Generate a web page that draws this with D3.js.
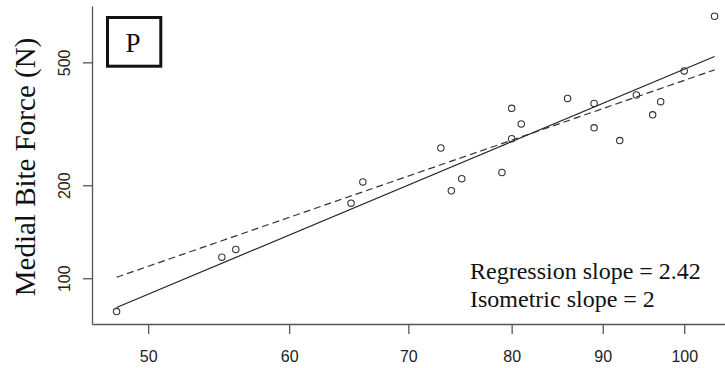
<!DOCTYPE html>
<html>
<head>
<meta charset="utf-8">
<script src="https://cdn.jsdelivr.net/npm/d3@7"></script>
<style>
  body { margin: 0; background: #fff; }
  svg { display: block; }
</style>
</head>
<body>
<div id="chart"></div>
<script>
// head length (mm) vs medial bite force (N)
const headLength = [48, 55, 56, 65, 66, 73, 74, 75, 79, 80, 80, 81, 86, 89, 89, 92, 94, 96, 97, 100, 104]
const biteForce = [78, 117, 124, 175, 205, 264, 192, 210, 220, 355, 283, 316, 382, 368, 307, 279, 392, 338, 373, 469, 705]

const xTicks = [50, 60, 70, 80, 90, 100]
const yTicks = [100, 200, 500]

// fitted lines in ln-ln space: ln(y) = intercept + slope * ln(x)
const regSlope = 2.42
const regIntercept = -4.981
const isoSlope = 2
const isoIntercept = -3.130

const panelLabel = 'P'
const noteLines = ['Regression slope = 2.42', 'Isometric slope = 2']

const width = 725
const height = 368
const plotLeft = 92, plotRight = 738, plotTop = 6, plotBottom = 324

const svg = d3.select('#chart').append('svg')
  .attr('width', width)
  .attr('height', height)

const x = d3.scaleLog()
  .domain([46.5, 107.2])
  .range([plotLeft, plotRight])

const y = d3.scaleLog()
  .domain([71.1, 761])
  .range([plotBottom, plotTop])

const axisColor = '#555'

// x axis
const gx = svg.append('g')
  .attr('transform', `translate(0,${plotBottom})`)
  .call(d3.axisBottom(x)
    .tickValues(xTicks)
    .tickFormat(d3.format('d'))
    .tickSize(10)
    .tickSizeOuter(0))
gx.select('.domain').attr('stroke', axisColor).attr('stroke-width', 1.3)
gx.selectAll('.tick line').attr('stroke', axisColor).attr('stroke-width', 1.3)
gx.selectAll('.tick text')
  .attr('y', 38)
  .attr('dy', 0)
  .attr('fill', '#222')
  .style('font-family', '"Liberation Sans", Arial, sans-serif')
  .style('font-size', '16px')

// y axis, labels parallel to the axis as in R
const gy = svg.append('g')
  .attr('transform', `translate(${plotLeft},0)`)
  .call(d3.axisLeft(y)
    .tickValues(yTicks)
    .tickFormat(d3.format('d'))
    .tickSize(9)
    .tickSizeOuter(0))
gy.select('.domain').attr('stroke', axisColor).attr('stroke-width', 1.3)
gy.selectAll('.tick line').attr('stroke', axisColor).attr('stroke-width', 1.3)
gy.selectAll('.tick text')
  .attr('transform', 'rotate(-90)')
  .attr('x', 0)
  .attr('y', -22)
  .attr('dy', 0)
  .attr('text-anchor', 'middle')
  .attr('fill', '#222')
  .style('font-family', '"Liberation Sans", Arial, sans-serif')
  .style('font-size', '16px')

svg.append('text')
  .attr('transform', 'translate(35,167) rotate(-90)')
  .attr('text-anchor', 'middle')
  .attr('fill', '#111')
  .style('font-family', '"Liberation Serif", "Times New Roman", serif')
  .style('font-size', '29px')
  .text('Medial Bite Force (N)')

// fitted lines across the data range
const xExt = d3.extent(headLength)
const lineGen = d3.line()
  .x(d => x(d[0]))
  .y(d => y(d[1]))

function fitPoints(a, b) {
  return xExt.map(v => [v, Math.exp(a + b * Math.log(v))])
}

svg.append('path')
  .datum(fitPoints(regIntercept, regSlope))
  .attr('d', lineGen)
  .attr('fill', 'none')
  .attr('stroke', '#222')
  .attr('stroke-width', 1.2)

svg.append('path')
  .datum(fitPoints(isoIntercept, isoSlope))
  .attr('d', lineGen)
  .attr('fill', 'none')
  .attr('stroke', '#333')
  .attr('stroke-width', 1.2)
  .attr('stroke-dasharray', '7,4')

// points
svg.append('g')
  .selectAll('circle')
  .data(headLength.map((v, i) => [v, biteForce[i]]))
  .join('circle')
  .attr('cx', d => x(d[0]))
  .attr('cy', d => y(d[1]))
  .attr('r', 3.2)
  .attr('fill', 'none')
  .attr('stroke', '#333')
  .attr('stroke-width', 1.1)

// panel label box
svg.append('rect')
  .attr('x', 107.5)
  .attr('y', 17.5)
  .attr('width', 53.3)
  .attr('height', 48.7)
  .attr('fill', 'none')
  .attr('stroke', '#111')
  .attr('stroke-width', 3)

svg.append('text')
  .attr('x', 133)
  .attr('y', 52)
  .attr('text-anchor', 'middle')
  .attr('fill', '#111')
  .style('font-family', '"Liberation Serif", "Times New Roman", serif')
  .style('font-size', '27px')
  .text(panelLabel)

// slope note
svg.append('g')
  .selectAll('text')
  .data(noteLines)
  .join('text')
  .attr('x', 470)
  .attr('y', (d, i) => 278.5 + i * 28.3)
  .attr('fill', '#111')
  .style('font-family', '"Liberation Serif", "Times New Roman", serif')
  .style('font-size', '24px')
  .text(d => d)
</script>
</body>
</html>
